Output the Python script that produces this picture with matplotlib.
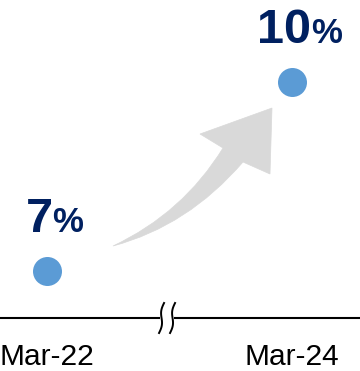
import numpy as np
import matplotlib
matplotlib.use("Agg")
import matplotlib.pyplot as plt
from matplotlib.patches import PathPatch, Rectangle
from matplotlib.path import Path
from matplotlib.transforms import IdentityTransform

periods = ["Mar-22", "Mar-24"]
values = [7, 10]
value_labels = ["7", "10"]

DOT = "#5B9BD5"
NAVY = "#002060"
ARROW = "#D9D9D9"

plt.rcParams["font.family"] = ["Liberation Sans", "DejaVu Sans"]

W, H, DPI = 360, 371, 100
fig = plt.figure(figsize=(W / DPI, H / DPI), dpi=DPI)
ax = fig.add_axes([0, 53 / H, 1, 1 - 53 / H])

x = np.arange(len(periods))
ax.scatter(x, values, s=(29 * 72 / DPI) ** 2, color=DOT, zorder=3, linewidths=0)

ax.set_xlim(-47 / 245, (W - 47) / 245)
ax.set_ylim(7 - 47 / 63, 7 - 47 / 63 + (H - 53) / 63)

for side in ["left", "top", "right"]:
    ax.spines[side].set_visible(False)
ax.spines["bottom"].set_linewidth(1.5)
ax.spines["bottom"].set_color("black")
ax.set_yticks([])
ax.set_xticks(x)
ax.set_xticklabels(periods, fontsize=21.5)
ax.tick_params(axis="x", length=0, pad=18)

# value labels: bold number with a smaller percent sign, centred over each dot
fig.canvas.draw()
renderer = fig.canvas.get_renderer()
for xi, v, lab in zip(x, values, value_labels):
    num = ax.annotate(lab, (xi, v), xytext=(0, 38.5), textcoords="offset pixels",
                      ha="right", va="baseline", fontsize=35, fontweight="bold",
                      color=NAVY)
    pct = ax.annotate("%", (xi, v), xytext=(0, 38.5), textcoords="offset pixels",
                      ha="left", va="baseline", fontsize=25, fontweight="bold",
                      color=NAVY)
    wn = num.get_window_extent(renderer).width
    wp = pct.get_window_extent(renderer).width
    split = 7.5 - (wn + wp) / 2 + wn
    num.xyann = (split, 38.5)
    pct.xyann = (split, 38.5)

# curved growth arrow between the two points (figure pixel coordinates, y from top)
arrow_pts = [
    ((113, 246), Path.MOVETO),
    ((188, 226), Path.CURVE3), ((243, 162), Path.CURVE3),
    ((270, 174), Path.LINETO),
    ((272, 108), Path.LINETO),
    ((200, 134), Path.LINETO),
    ((223, 148), Path.LINETO),
    ((183, 213), Path.CURVE3), ((113, 246), Path.CURVE3),
    ((113, 246), Path.CLOSEPOLY),
]
verts = [(px / W, 1 - py / H) for (px, py), _ in arrow_pts]
codes = [c for _, c in arrow_pts]
fig.patches.append(PathPatch(Path(verts, codes), facecolor=ARROW, edgecolor=ARROW,
                             lw=0.5, transform=fig.transFigure, zorder=1))

# axis break marks on the baseline
bx, by = ax.transData.transform((0.49, ax.get_ylim()[0]))
ident = IdentityTransform()
fig.patches.append(Rectangle((bx - 7, by - 5), 14, 10, facecolor="white",
                             edgecolor="none", transform=ident, zorder=5))
t = np.linspace(-1, 1, 40)
for dx in (-5.5, 5.5):
    xs = bx + dx + 2.5 * t - 1.5 * np.sin(np.pi * t)
    ys = by + 15 * t
    fig.lines.append(plt.Line2D(xs, ys, color="black", lw=1.4, transform=ident,
                                zorder=6))

fig.savefig("out.png", dpi=DPI)
